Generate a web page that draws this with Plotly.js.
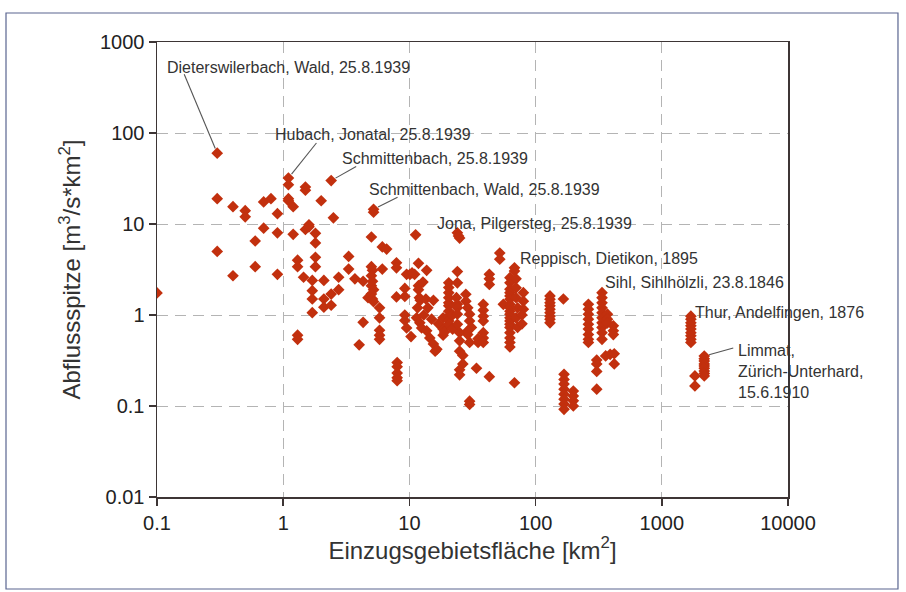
<!DOCTYPE html>
<html>
<head>
<meta charset="utf-8">
<script src="https://cdn.plot.ly/plotly-3.0.1.min.js"></script>
<style>
  html, body { margin: 0; padding: 0; background: #ffffff; }
  #chart { width: 906px; height: 592px; }
</style>
</head>
<body>
<div id="chart"></div>
<script>
// Catchment area [km2]
const area = [
  0.1,
  0.3, 0.3, 0.3,
  0.4, 0.4,
  0.5, 0.5,
  0.6, 0.6,
  0.7, 0.7,
  0.8,
  0.9, 0.9, 0.9,
  1.1, 1.1, 1.1, 1.1,
  1.2, 1.2,
  1.3, 1.3, 1.3, 1.3,
  1.45,
  1.5, 1.5, 1.5,
  1.6, 1.6,
  1.7, 1.7, 1.7, 1.7,
  1.8, 1.8, 1.8, 1.8,
  2.0,
  2.1, 2.1, 2.1,
  2.4, 2.4, 2.4,
  2.5,
  2.75, 2.75,
  3.3, 3.3,
  3.7,
  4.0,
  4.3, 4.3,
  4.7,
  5.0, 5.0, 5.1, 5.0, 5.1, 5.0, 5.2, 5.0, 5.1, 5.2,
  5.2, 5.2,
  5.8, 5.8, 5.8, 5.8, 5.8,
  6.1, 6.1,
  6.6,
  7.9, 7.9, 7.9, 8.0, 8.0, 8.0, 8.0, 8.0,
  9.2, 9.2, 9.2, 9.2, 9.5,
  9.5, 10.1, 10.5, 11,
  10.3,
  11.2,
  11.8, 11.8, 11.8, 12, 12.2, 11.6, 11.4, 12.1,
  12.5, 13.7, 14.5, 15.5, 16, 16.5,
  13.7,
  12.8, 13.5, 15.5, 14, 13, 15,
  17, 18.5, 18.5, 18.5, 19,
  20.5, 20.5, 20.5, 20.5, 20.5, 20.5, 20.5, 20.5, 20.5, 20.5,
  22, 22,
  24, 25, 24.5,
  24, 24, 23.6, 24, 24, 24, 24, 25, 25,
  25, 26.5, 26.5, 25, 25,
  28, 28, 29, 30, 30, 31, 29, 30, 29,
  30, 30,
  34, 35, 35,
  38.5, 38.5, 38.5, 38.5, 38.5, 38.5, 38.5,
  43, 43, 43, 43,
  52, 52,
  55.5,
  62.6, 62.6, 62.6, 62.6, 62.6, 62.6, 62.6, 62.6, 62.6,
  62.6, 62.6, 62.6, 62.6, 62.6, 62.6, 62.6, 62.6, 62.6,
  68, 68, 70, 70, 70, 72, 70, 72, 68,
  80, 80, 80, 78, 78,
  130, 130, 130, 130, 130, 130, 130, 130, 130,
  166,
  168, 168, 168, 168, 168, 168, 168, 168,
  199, 199, 199, 199,
  262, 262, 262, 262, 262, 262, 262, 262, 262,
  305, 305, 305, 305,
  336, 336, 336, 336, 336, 336, 336, 336, 336, 336,
  371, 371, 371,
  413, 413, 413,
  359, 390, 420, 420,
  1700, 1700, 1700, 1700, 1700, 1700, 1700, 1700, 1700,
  2170, 2170, 2170, 2170, 2170, 2170, 2170, 2170, 2170,
  1830, 1830
];

// Specific peak discharge [m3/s*km2]
const peak = [
  1.75,
  60, 19, 5,
  15.5, 2.7,
  14, 12,
  6.5, 3.4,
  17.5, 9,
  19,
  13, 8, 2.8,
  32, 27, 19, 18,
  15.5, 7.7,
  4.0, 3.4, 0.6, 0.54,
  2.6,
  25.5, 23.5, 8.7,
  9.8, 9.3,
  2.4, 1.85, 1.5, 1.06,
  7.9, 6.2, 4.3, 3.4,
  18,
  2.4, 1.5, 1.22,
  30, 1.7, 1.28,
  11.7,
  2.6, 1.9,
  4.4, 3.2,
  2.5,
  0.47,
  2.35, 0.83,
  1.55,
  7.2, 3.4, 3.1, 2.7, 2.35, 2.1, 1.9, 1.7, 1.5, 1.4,
  14.5, 13.5,
  1.2, 0.93, 0.68, 0.6, 0.54,
  5.6, 3.2,
  5.3,
  3.75, 3.3, 1.58, 0.3, 0.27, 0.23, 0.205, 0.19,
  1.96, 1.6, 1.0, 0.87, 0.72,
  2.8, 2.8, 2.9, 2.8,
  0.58,
  7.6,
  3.7, 2.1, 1.9, 1.55, 1.45, 1.2, 0.93, 0.82,
  0.72, 0.67, 0.56, 0.48, 0.4, 0.42,
  3.1,
  2.3, 1.5, 1.45, 1.2, 1.0, 0.9,
  0.8, 0.93, 0.7, 0.6, 0.65,
  2.26, 2.0, 1.76, 1.55, 1.36, 1.26, 1.1, 0.97, 0.86, 0.79,
  1.0, 0.7,
  8, 7.0, 7.4,
  3.0, 2.26, 1.55, 1.31, 1.2, 1.02, 0.79, 0.64, 0.52,
  0.4, 0.36, 0.29, 0.25, 0.22,
  1.69, 1.42, 1.2, 1.02, 0.86, 0.73, 0.61, 0.5, 0.67,
  0.113, 0.104,
  0.26, 0.5, 0.55,
  1.31, 1.13, 0.97, 0.86, 0.64, 0.56, 0.5,
  2.8, 2.5, 2.17, 0.21,
  4.8, 4.1,
  1.31,
  2.57, 2.26, 1.92, 1.76, 1.62, 1.49, 1.31, 1.2, 1.1,
  1.02, 0.93, 0.86, 0.79, 0.73, 0.64, 0.56, 0.5, 0.445,
  3.3, 3.04, 2.5, 1.99, 1.55, 1.2, 0.93, 0.73, 0.18,
  1.76, 1.42, 1.16, 1.0, 0.8,
  1.62, 1.49, 1.36, 1.26, 1.16, 1.06, 0.97, 0.9, 0.82,
  1.5,
  0.223, 0.196, 0.174, 0.153, 0.135, 0.119, 0.105, 0.092,
  0.146, 0.129, 0.114, 0.1,
  1.31, 1.16, 1.02, 0.9, 0.79, 0.7, 0.61, 0.54, 0.5,
  0.32, 0.29, 0.24, 0.153,
  1.76, 1.55, 1.36, 1.2, 1.06, 0.93, 0.82, 0.73, 0.64, 0.54,
  1.02, 0.9, 0.82,
  0.76, 0.67, 0.61,
  0.355, 0.37, 0.375, 0.29,
  0.97, 0.9, 0.82, 0.76, 0.7, 0.64, 0.59, 0.54, 0.5,
  0.354, 0.33, 0.312, 0.29, 0.275, 0.26, 0.242, 0.228, 0.214,
  0.214, 0.166
];

// Tick labels
const xTickVals = [0.1, 1, 10, 100, 1000, 10000];
const xTickText = ['0.1', '1', '10', '100', '1000', '10000'];
const yTickVals = [0.01, 0.1, 1, 10, 100, 1000];
const yTickText = ['0.01', '0.1', '1', '10', '100', '1000'];

// Labelled events
const labelText = [
  'Dieterswilerbach, Wald, 25.8.1939',
  'Hubach, Jonatal, 25.8.1939',
  'Schmittenbach, 25.8.1939',
  'Schmittenbach, Wald, 25.8.1939',
  'Jona, Pilgersteg, 25.8.1939',
  'Reppisch, Dietikon, 1895',
  'Sihl, Sihlhölzli, 23.8.1846',
  'Thur, Andelfingen, 1876',
  'Limmat,<br>Zürich-Unterhard,<br>15.6.1910'
];
const labelArea = [0.3, 1.1, 2.4, 5.2, 24, 68, 336, 1700, 2170];
const labelPeak = [60, 32, 30, 14.5, 8, 3.3, 1.76, 0.97, 0.354];

// Layout offsets (pixels, y up) for label text and leader-line tails
const textShift = [[-52, 86], [-15, 44], [9, 22], [-7, 20], [-22, 9], [4, 9], [1, 10], [2, 4], [32, -15]];
const leader = [[-33, 79], [28, 35], [25, 14], [24, 12], null, null, null, null, [29, 8]];
const PX_PER_DECADE_X = 631 / 5;

const FONT = 'Liberation Sans, Arial, sans-serif';
const annotations = [];
const shapes = [];
labelText.forEach((t, i) => {
  const lx = Math.log10(labelArea[i]);
  const ly = Math.log10(labelPeak[i]);
  annotations.push({
    x: lx, y: ly, xref: 'x', yref: 'y',
    text: t, showarrow: false,
    xanchor: 'left', yanchor: 'middle', align: 'left',
    xshift: textShift[i][0], yshift: textShift[i][1],
    font: {family: FONT, size: 16, color: '#333333'}
  });
  if (leader[i]) {
    const dx = leader[i][0], dy = leader[i][1];
    const len = Math.sqrt(dx * dx + dy * dy);
    const s = 5 / len;
    let xa = labelArea[i], x0 = dx * s, x1 = dx;
    if (dx < 0) {
      // anchor at the tail so that pixel offsets stay positive on the log axis
      xa = labelArea[i] * Math.pow(10, dx / PX_PER_DECADE_X);
      x0 = -dx * (1 - s); x1 = 0;
    }
    shapes.push({
      type: 'line', xref: 'x', yref: 'y',
      xsizemode: 'pixel', ysizemode: 'pixel',
      xanchor: xa, yanchor: labelPeak[i],
      x0: x0, y0: dy * s, x1: x1, y1: dy,
      line: {color: '#555555', width: 1.1}
    });
  }
});

shapes.push({
  type: 'rect', xref: 'paper', yref: 'paper',
  x0: -0.2393, x1: 1.1743, y0: -0.2022, y1: 1.0637,
  line: {color: '#5a6590', width: 1.2}, fillcolor: 'rgba(0,0,0,0)'
});

const trace = {
  type: 'scatter', mode: 'markers',
  x: area, y: peak,
  marker: {symbol: 'diamond', size: 9, color: '#c2300e',
           line: {width: 0}},
  hoverinfo: 'skip'
};

const axisCommon = {
  type: 'log',
  showgrid: true, gridcolor: '#b4b4b4', gridwidth: 1, griddash: '11px,7px',
  showline: true, linecolor: '#3d3535', linewidth: 1.5, mirror: true,
  ticks: 'outside', ticklen: 7, tickwidth: 1.5, tickcolor: '#3d3535',
  zeroline: false,
  tickfont: {family: FONT, size: 20, color: '#222222'}
};

const layout = {
  width: 906, height: 592,
  margin: {l: 157, r: 118, t: 42, b: 95},
  paper_bgcolor: '#ffffff', plot_bgcolor: '#ffffff',
  showlegend: false,
  font: {family: FONT},
  xaxis: Object.assign({}, axisCommon, {
    range: [-1, 4], tickmode: 'array', tickvals: xTickVals, ticktext: xTickText,
    title: {text: 'Einzugsgebietsfläche [km<sup>2</sup>]', standoff: 3,
            font: {family: FONT, size: 24, color: '#333333'}}
  }),
  yaxis: Object.assign({}, axisCommon, {
    range: [-2, 3], tickmode: 'array', tickvals: yTickVals, ticktext: yTickText,
    title: {text: 'Abflussspitze [m<sup>3</sup>/s*km<sup>2</sup>]', standoff: 12,
            font: {family: FONT, size: 24, color: '#333333'}}
  }),
  annotations: annotations,
  shapes: shapes
};

Plotly.newPlot('chart', [trace], layout, {displayModeBar: false, staticPlot: true});
</script>
</body>
</html>
